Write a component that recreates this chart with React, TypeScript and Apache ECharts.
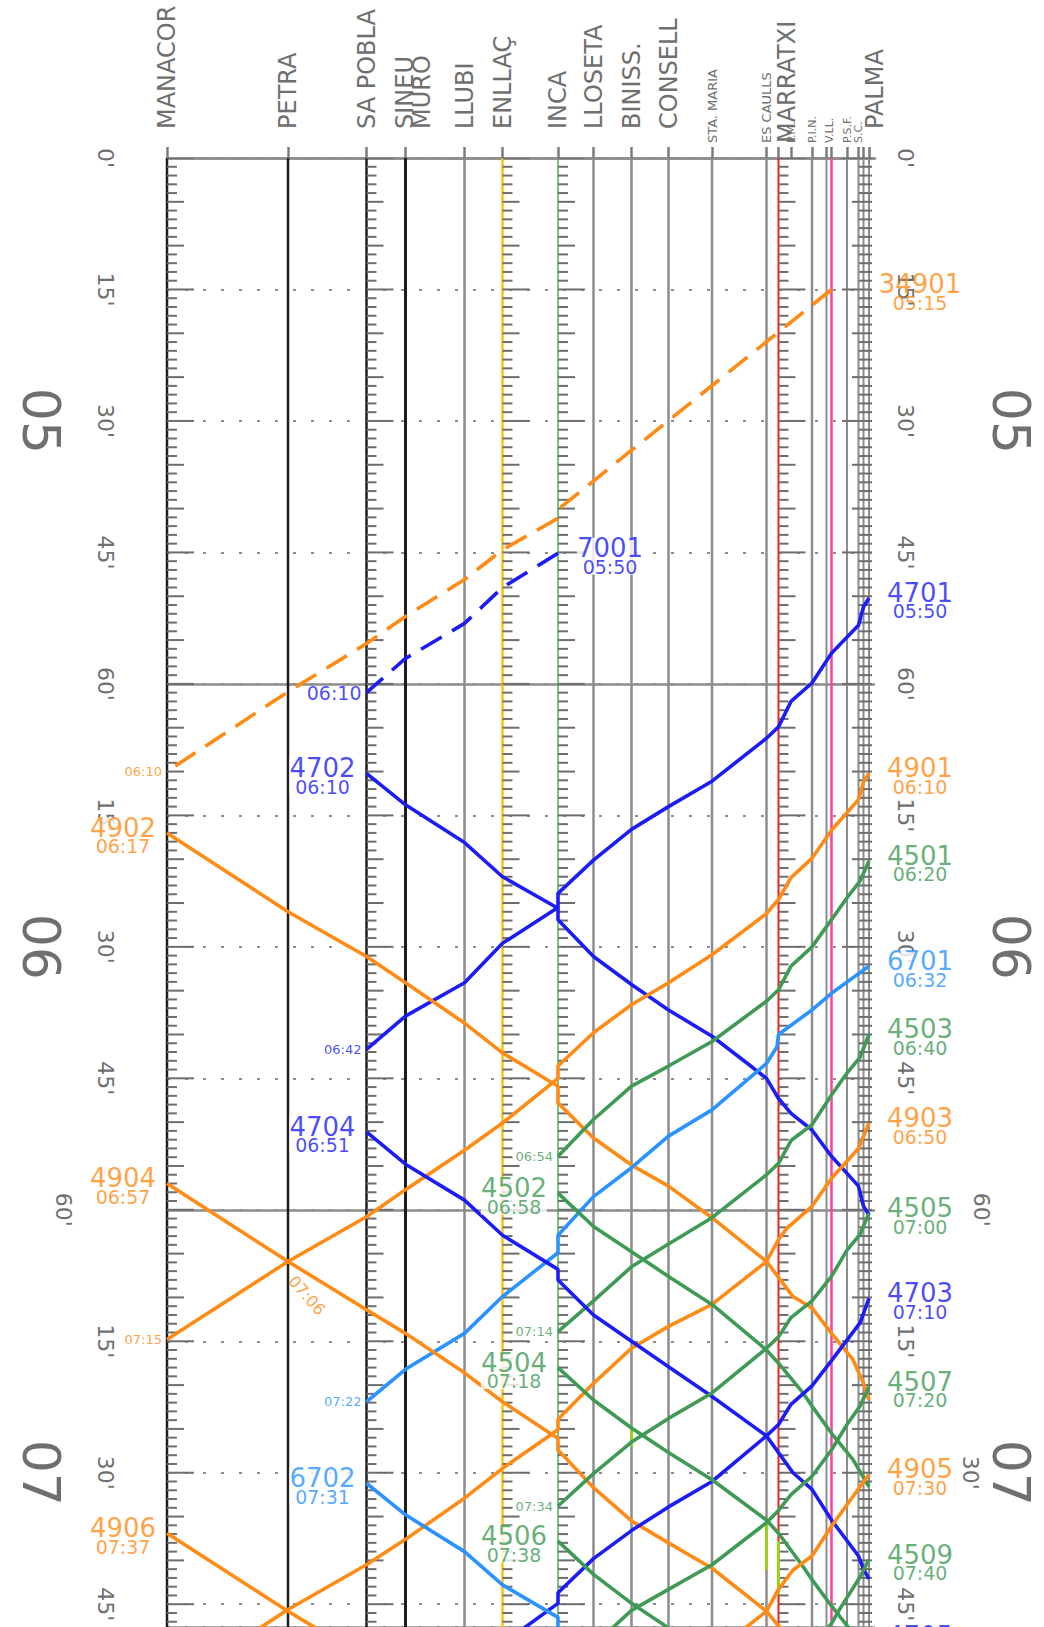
import React, { useEffect, useRef } from "react";
import * as echarts from "echarts";

// ---------- stations (km from Palma) ----------
const stationCodes = ["PAL", "SJ", "SC", "PSF", "VLL", "PI", "PIN", "PM", "MAR", "ESC", "STM", "CON", "BIN", "LLO", "INC", "ENL", "LLU", "MUR", "SPO", "PET", "MAN"];
const stationKm = [0, 0.55, 1.05, 2.2, 3.75, 4.25, 5.7, 7.8, 9.05, 10.25, 15.7, 20.05, 23.75, 27.55, 31.1, 36.65, 40.45, 46.35, 50.25, 58.1, 70.2];

// header labels
const bigLabelNames = ["PALMA", "LLOSETA", "BINISS.", "CONSELL", "INCA", "ENLLAÇ", "LLUBI", "MURO", "SINEU", "SA POBLA", "PETRA", "MANACOR"];
const bigLabelKm = [-0.6, 27.55, 23.75, 20.05, 31.1, 36.65, 40.45, 44.7, 46.4, 50.25, 58.1, 70.2];
const lowLabelNames = ["MARRATXI", "ES CAULLS", "STA. MARIA", "P.M.", "P.I.N.", "V.LL.", "P.S.F.", "S.C.", "S.J."];
const lowLabelKm = [8.23, 10.25, 15.7, 7.8, 5.7, 4.0, 2.2, 1.05, 0.55];

// time axis (minutes after 05:00)
const leftMinuteTicks = [0, 15, 30, 45, 60, 75, 90, 105, 135, 150, 165];
const rightMinuteTicks = [0, 15, 30, 45, 60, 75, 90, 105, 135, 165];
const hourTicks = [30, 90, 150];
const hourNames = ["05", "06", "07"];

// ---------- train paths: [station or km, minutes after 05:00] ----------
type Stop = [string | number, number];
const T34901: Stop[] = [["VLL", 15], ["INC", 40.1], ["INC", 41.1], ["ENL", 44.7], ["LLU", 48.1], ["MUR", 52.3], ["SPO", 55.4], ["PET", 60.9], ["MAN", 70.0]];
const T7001: Stop[] = [["INC", 45.1], ["ENL", 49.0], ["LLU", 53.1], ["MUR", 57.1], ["SPO", 61.0]];
const T4701: Stop[] = [["PAL", 50.2], ["SJ", 51.2], ["SC", 53.3], ["VLL", 56.5], ["PIN", 59.9], ["PM", 62.0], ["MAR", 64.9], ["ESC", 66.2], ["STM", 71.1], ["CON", 74.0], ["BIN", 76.6], ["LLO", 80.1], ["INC", 83.9], ["INC", 85.5], ["ENL", 89.6], ["LLU", 94.1], ["MUR", 97.9], ["SPO", 101.7]];
const T4702: Stop[] = [["SPO", 70.2], ["MUR", 73.8], ["LLU", 78.1], ["ENL", 82.0], ["INC", 85.6], ["INC", 86.9], ["LLO", 91.1], ["BIN", 94.3], ["CON", 97.2], ["STM", 100.2], [11.6, 103.8], ["ESC", 105.0], ["MAR", 107.3], ["PM", 109.0], ["PIN", 110.9], ["VLL", 113.9], ["SC", 117.3], ["SJ", 119.6], ["PAL", 120.6]];
const T4901: Stop[] = [["PAL", 70.2], ["SJ", 71.2], ["SC", 73.2], ["VLL", 76.7], ["PIN", 79.9], ["PM", 82.1], ["MAR", 84.6], ["ESC", 86.2], ["STM", 90.9], ["CON", 94.1], ["BIN", 96.6], ["LLO", 99.8], ["INC", 103.6], ["INC", 105.0], ["ENL", 110.1], ["LLU", 113.2], ["MUR", 117.7], ["SPO", 120.8], ["PET", 125.9], ["MAN", 134.8]];
const T4902: Stop[] = [["MAN", 77.0], ["PET", 86.0], ["SPO", 91.1], ["MUR", 94.1], ["LLU", 98.7], ["ENL", 102.1], ["INC", 105.9], ["INC", 107.8], ["LLO", 111.8], ["BIN", 114.9], ["CON", 117.3], ["STM", 120.9], ["ESC", 125.9], [7.6, 129.9], ["PIN", 131.2], ["VLL", 134.1], [1.6, 137.1], ["SJ", 139.8], ["PAL", 141.7]];
const T4501: Stop[] = [["PAL", 80.2], [0.9, 82.5], ["PSF", 84.4], ["VLL", 86.9], ["PIN", 90.0], ["PM", 92.2], ["MAR", 94.9], ["ESC", 96.2], ["STM", 100.8], ["CON", 103.6], ["BIN", 105.9], ["LLO", 109.7], ["INC", 113.9]];
const T6701: Stop[] = [["PAL", 92.2], ["VLL", 95.3], ["PIN", 97.2], ["MAR", 100.0], [9.2, 101.4], ["ESC", 103.3], ["STM", 108.6], ["CON", 111.6], ["BIN", 115.2], ["LLO", 118.5], ["INC", 122.9], ["INC", 124.9], ["ENL", 129.9], ["LLU", 134.1], ["MUR", 138.2], ["SPO", 141.9]];
const T4503: Stop[] = [["PAL", 100.0], [0.9, 102.6], ["PSF", 104.4], ["VLL", 106.9], ["PIN", 110.3], ["PM", 112.1], ["MAR", 114.7], ["ESC", 116.0], ["STM", 120.9], ["CON", 123.9], ["BIN", 126.5], ["LLO", 130.4], ["INC", 133.9]];
const T4903: Stop[] = [["PAL", 110.1], ["SC", 113.0], ["VLL", 116.4], ["PIN", 119.6], [8.2, 122.1], ["MAR", 123.4], ["ESC", 125.9], ["STM", 130.8], ["CON", 133.3], ["BIN", 135.8], ["LLO", 139.8], ["INC", 143.9], ["INC", 145.1], ["ENL", 149.5], ["LLU", 152.9], ["MUR", 157.6], ["SPO", 160.5], ["PET", 165.6], ["MAN", 174.7]];
const T4704: Stop[] = [["SPO", 111.1], ["MUR", 114.8], ["LLU", 118.9], ["ENL", 122.9], ["INC", 126.8], ["INC", 128.0], ["LLO", 132.0], ["BIN", 135.0], ["CON", 137.9], ["STM", 141.3], ["ESC", 145.8], ["MAR", 147.7], [7.6, 150.0], ["PIN", 151.9], ["VLL", 155.4], ["SC", 159.5], ["SJ", 161.0], ["PAL", 162.1]];
const T4904: Stop[] = [["MAN", 117.0], ["PET", 125.9], ["SPO", 131.4], ["MUR", 134.1], ["LLU", 138.6], ["ENL", 141.9], ["INC", 146.1], ["INC", 147.4], ["LLO", 151.7], ["BIN", 155.5], ["CON", 158.0], ["STM", 160.9], ["ESC", 165.8], ["MAR", 167.5], ["PIN", 171.0], ["VLL", 173.6], ["PAL", 178.0]];
const T4502: Stop[] = [["INC", 118.1], ["LLO", 121.9], ["BIN", 124.8], ["CON", 127.6], ["STM", 130.8], ["ESC", 136.0], ["MAR", 137.5], [6.6, 140.9], ["PIN", 142.4], ["VLL", 145.5], [1.6, 148.5], ["PAL", 151.6]];
const T4505: Stop[] = [["PAL", 120.4], [0.9, 122.8], ["PSF", 124.6], ["VLL", 127.6], ["PIN", 130.4], ["PM", 132.3], ["MAR", 134.5], ["ESC", 135.8], ["STM", 140.9], ["CON", 143.8], ["BIN", 146.5], ["LLO", 150.1], ["INC", 153.8]];
const T4703: Stop[] = [["PAL", 130.1], [0.9, 132.9], ["VLL", 137.2], ["PIN", 140.1], ["PM", 142.2], ["MAR", 144.5], ["ESC", 145.8], ["STM", 151.0], ["CON", 153.9], ["BIN", 156.6], ["LLO", 159.8], ["INC", 163.7], ["INC", 164.9], ["ENL", 169.5], ["LLU", 174.0]];
const T4504: Stop[] = [["INC", 138.0], ["LLO", 141.7], ["BIN", 144.9], ["CON", 147.7], ["STM", 150.8], ["ESC", 155.4], ["MAR", 156.9], [6.6, 160.7], ["PIN", 162.2], ["VLL", 165.2], [1.6, 168.3], ["PAL", 171.4]];
const T4507: Stop[] = [["PAL", 140.2], [0.9, 142.4], ["PSF", 144.5], ["VLL", 147.4], ["PIN", 150.4], ["PM", 152.5], ["MAR", 154.3], ["ESC", 155.7], ["STM", 160.5], ["CON", 163.3], ["BIN", 165.7], ["LLO", 169.7], ["INC", 173.9]];
const T4905: Stop[] = [["PAL", 150.2], [0.9, 151.6], ["VLL", 156.1], ["PIN", 159.5], [7.6, 161.1], ["MAR", 163.3], ["ESC", 165.8], ["STM", 170.7]];
const T6702: Stop[] = [["SPO", 151.2], ["MUR", 154.8], ["LLU", 159.0], ["ENL", 162.8], ["INC", 166.5], ["INC", 167.8], ["LLO", 172.0]];
const T4906: Stop[] = [["MAN", 156.9], ["PET", 165.8], ["SPO", 171.2]];
const T4506: Stop[] = [["INC", 157.8], ["LLO", 161.6], ["BIN", 164.9], ["CON", 167.7], ["STM", 170.9]];
const T4509: Stop[] = [["PAL", 159.9], [0.9, 161.9], [2.9, 165.5], ["VLL", 167.2], ["PIN", 170.0]];
const T4705: Stop[] = [["PAL", 169.2], ["VLL", 174.0]];

// platform occupation marks (lime)
const occupations: Stop[][] = [[["BIN", 144.9], ["BIN", 147.0]], [["ESC", 155.7], ["ESC", 161.1]], [["MAR", 157.8], ["MAR", 163.9]]];

// crossing time note at Petra
const crossingNote: Stop = ["PET", 125.9];
const crossingText = "07:06";

// ---------- styles ----------
const FONT = "DejaVu Sans";
const AXIS_TEXT = "#6f6f6f";
const COLORS: Record<string, string> = { orange: "#ff8a14", blue: "#1c1cf5", lblue: "#2a93ff", green: "#3f9a55" };
const LIME = "#9ad31e";
const GRAY = "#8c8c8c";
const BLACK = "#1e1e1e";
const lineColors = [GRAY, GRAY, GRAY, GRAY, "#ff3fa0", GRAY, GRAY, GRAY, "#ff1a1a", GRAY, GRAY, GRAY, GRAY, GRAY, "#4caf50", "#ffc20e", GRAY, BLACK, BLACK, BLACK, BLACK];
const lineWidths = [2, 2, 2, 2, 2.5, 2, 2.5, 0, 2, 2.5, 2.5, 2.5, 2.5, 2.5, 1.5, 2.5, 2.5, 3, 2.5, 2.5, 2.5];
const rulerStations = ["MAN", "SPO", "ENL", "INC", "MAR", "PAL"];
const rulerDirs = [1, 1, 1, 1, 1, -1];

type Train = { no: string; stops: Stop[]; kind: string; dashed?: boolean; dep: string; arr?: string; side: "P" | "L" | "R"; bg?: boolean; bigArr?: boolean };
const trains: Train[] = [
  { no: "34901", stops: T34901, kind: "orange", dashed: true, dep: "05:15", arr: "06:10", side: "P", bg: false },
  { no: "7001", stops: T7001, kind: "blue", dashed: true, dep: "05:50", arr: "06:10", side: "R", bigArr: true },
  { no: "4701", stops: T4701, kind: "blue", dep: "05:50", arr: "06:42", side: "P" },
  { no: "4702", stops: T4702, kind: "blue", dep: "06:10", side: "L" },
  { no: "4901", stops: T4901, kind: "orange", dep: "06:10", arr: "07:15", side: "P" },
  { no: "4902", stops: T4902, kind: "orange", dep: "06:17", side: "L" },
  { no: "4501", stops: T4501, kind: "green", dep: "06:20", arr: "06:54", side: "P" },
  { no: "6701", stops: T6701, kind: "lblue", dep: "06:32", arr: "07:22", side: "P" },
  { no: "4503", stops: T4503, kind: "green", dep: "06:40", arr: "07:14", side: "P" },
  { no: "4903", stops: T4903, kind: "orange", dep: "06:50", side: "P" },
  { no: "4704", stops: T4704, kind: "blue", dep: "06:51", side: "L" },
  { no: "4904", stops: T4904, kind: "orange", dep: "06:57", side: "L" },
  { no: "4502", stops: T4502, kind: "green", dep: "06:58", side: "L" },
  { no: "4505", stops: T4505, kind: "green", dep: "07:00", arr: "07:34", side: "P" },
  { no: "4703", stops: T4703, kind: "blue", dep: "07:10", side: "P" },
  { no: "4504", stops: T4504, kind: "green", dep: "07:18", side: "L" },
  { no: "4507", stops: T4507, kind: "green", dep: "07:20", side: "P" },
  { no: "4905", stops: T4905, kind: "orange", dep: "07:30", side: "P" },
  { no: "6702", stops: T6702, kind: "lblue", dep: "07:31", side: "L" },
  { no: "4906", stops: T4906, kind: "orange", dep: "07:37", side: "L" },
  { no: "4506", stops: T4506, kind: "green", dep: "07:38", side: "L" },
  { no: "4509", stops: T4509, kind: "green", dep: "07:40", side: "P" },
  { no: "4705", stops: T4705, kind: "blue", dep: "07:50", side: "P" },
];

const kmOf = (s: string | number) => (typeof s === "number" ? s : stationKm[stationCodes.indexOf(s)]);
const pt = (s: Stop) => [kmOf(s[0]), s[1]];
const minuteLabel = (v: number) => (v === 0 ? "0'" : v % 60 === 0 ? "60'" : `${v % 60}'`);
const pick = (keys: number[], names: string[]) => (v: number) => {
  const i = keys.findIndex((k) => Math.abs(k - v) < 1e-6);
  return i >= 0 ? names[i] : "";
};

function buildOption(): any {
  const Y_MAX = 167.6;
  const yBase = {
    type: "value", min: 0, max: Y_MAX, inverse: true,
    axisLine: { show: false, onZero: false }, axisTick: { show: false }, splitLine: { show: false },
  };
  const minuteLabelStyle = { rotate: -90, fontSize: 22, color: AXIS_TEXT, fontFamily: FONT, formatter: minuteLabel };
  const hourLabelStyle = { rotate: -90, fontSize: 52, color: AXIS_TEXT, fontFamily: FONT, formatter: (v: number) => hourNames[Math.floor(v / 60)] };

  const yAxis = [
    { ...yBase, position: "left", offset: 0, interval: 15, splitLine: { show: true, lineStyle: { color: GRAY, width: 2, type: [3, 15] } }, axisLabel: { ...minuteLabelStyle, customValues: leftMinuteTicks, margin: 51 } },
    { ...yBase, position: "left", offset: 0, interval: 60, splitLine: { show: true, lineStyle: { color: GRAY, width: 2.5 } }, axisLabel: { show: false } },
    { ...yBase, position: "left", offset: 0, axisLabel: { ...minuteLabelStyle, customValues: [120], margin: 93 } },
    { ...yBase, position: "left", offset: 0, axisLabel: { ...hourLabelStyle, customValues: hourTicks, margin: 100 } },
    { ...yBase, position: "right", offset: 0, axisLabel: { ...minuteLabelStyle, customValues: rightMinuteTicks, margin: 19 } },
    { ...yBase, position: "right", offset: 0, axisLabel: { ...minuteLabelStyle, customValues: [120], margin: 95 } },
    { ...yBase, position: "right", offset: 0, axisLabel: { ...minuteLabelStyle, customValues: [150], margin: 84 } },
    { ...yBase, position: "right", offset: 0, axisLabel: { ...hourLabelStyle, customValues: hourTicks, margin: 110 } },
  ];

  const xBase = { type: "value", min: -0.6, max: 70.2, inverse: true, position: "top", splitLine: { show: false } };
  const xAxis = [
    {
      ...xBase,
      axisLine: { show: true, onZero: false, lineStyle: { color: GRAY, width: 2.5 } },
      axisTick: { show: true, customValues: stationKm, length: 11, lineStyle: { color: "#7a7a7a", width: 2.5 } },
      axisLabel: { customValues: bigLabelKm, rotate: -90, margin: 29, fontSize: 24, color: AXIS_TEXT, fontFamily: FONT, formatter: pick(bigLabelKm, bigLabelNames) },
    },
    {
      ...xBase,
      axisLine: { show: false, onZero: false }, axisTick: { show: false },
      axisLabel: {
        customValues: lowLabelKm, rotate: -90, margin: 15, color: AXIS_TEXT, fontFamily: FONT,
        formatter: (v: number) => {
          const name = pick(lowLabelKm, lowLabelNames)(v);
          const sty = name === "MARRATXI" ? "b" : name === "ES CAULLS" || name === "STA. MARIA" ? "m" : "s";
          return `{${sty}|${name}}`;
        },
        rich: {
          b: { fontSize: 24, color: AXIS_TEXT, fontFamily: FONT },
          m: { fontSize: 13, color: AXIS_TEXT, fontFamily: FONT },
          s: { fontSize: 11, color: AXIS_TEXT, fontFamily: FONT },
        },
      },
    },
  ];

  const series: any[] = [];

  // station lines
  series.push({
    type: "custom", coordinateSystem: "cartesian2d", silent: true, z: 1, clip: false,
    data: stationKm.map((km, i) => [km, 0, i]),
    renderItem: (params: any, api: any) => {
      const i = api.value(2);
      const w = lineWidths[i];
      if (!w) return null;
      const p = api.coord([api.value(0), 0]);
      const cs = params.coordSys;
      return { type: "line", shape: { x1: p[0], y1: cs.y, x2: p[0], y2: cs.y + cs.height }, style: { stroke: lineColors[i], lineWidth: w } };
    },
  });

  // minute rulers
  const rulerData: number[][] = [];
  rulerStations.forEach((code, r) => {
    for (let m = 0; m <= 167; m++) rulerData.push([kmOf(code), m, rulerDirs[r]]);
  });
  series.push({
    type: "custom", coordinateSystem: "cartesian2d", silent: true, z: 2, clip: true,
    data: rulerData,
    renderItem: (params: any, api: any) => {
      const m = api.value(1);
      const dir = api.value(2);
      const p = api.coord([api.value(0), m]);
      const len = m % 15 === 0 ? 27 : m % 5 === 0 ? 17 : 10;
      const x0 = dir > 0 ? p[0] : p[0] + 3;
      return { type: "line", shape: { x1: x0, y1: p[1], x2: x0 + dir * (len + (dir < 0 ? 3 : 0)), y2: p[1] }, style: { stroke: "#6e6e6e", lineWidth: 2 } };
    },
  });

  // occupation marks
  occupations.forEach((seg) => {
    series.push({ type: "line", data: seg.map(pt), showSymbol: false, symbol: "none", silent: true, z: 3, lineStyle: { color: LIME, width: 3 } });
  });

  // trains
  trains.forEach((t) => {
    series.push({
      type: "line", name: t.no, data: t.stops.map(pt), showSymbol: false, symbol: "none", silent: true, z: 4,
      lineStyle: { color: COLORS[t.kind], width: 3.6, type: t.dashed ? [24, 12] : "solid", cap: "butt" },
    });
  });

  // labels
  const labelData: any[] = [];
  trains.forEach((t) => {
    const color = COLORS[t.kind];
    const s0 = t.stops[0];
    const anchor = t.side === "P" ? [0, s0[1]] : pt(s0);
    const dx = t.side === "P" ? 51 : t.side === "L" ? -44 : 52;
    labelData.push({
      value: anchor,
      label: {
        show: true, position: "inside", offset: [dx, 3], align: "center", verticalAlign: "middle",
        formatter: `{n|${t.no}}\n{t|${t.dep}}`,
        backgroundColor: t.bg === false ? "transparent" : "#ffffff",
        rich: {
          n: { fontSize: 26, lineHeight: 21, color, fontFamily: FONT, align: "center" },
          t: { fontSize: 19, lineHeight: 16, color, fontFamily: FONT, align: "center" },
        },
      },
    });
    if (t.arr) {
      const last = t.stops[t.stops.length - 1];
      labelData.push({
        value: pt(last),
        label: {
          show: true, position: "inside", offset: [-5, 0], align: "right", verticalAlign: "middle",
          formatter: t.arr, fontSize: t.bigArr ? 19 : 13, color, fontFamily: FONT,
        },
      });
    }
  });
  labelData.push({
    value: pt(crossingNote),
    label: {
      show: true, position: "inside", offset: [38, 8], align: "center", verticalAlign: "middle", rotate: -49,
      formatter: crossingText, fontSize: 16, color: COLORS.orange, fontFamily: FONT,
    },
  });
  series.push({
    type: "scatter", symbol: "circle", symbolSize: 1, itemStyle: { color: "rgba(0,0,0,0)" }, silent: true, clip: false, z: 6,
    data: labelData,
  });

  return {
    animation: false,
    backgroundColor: "#ffffff",
    grid: { left: 167, right: 169, top: 158, bottom: 0, containLabel: false, outerBoundsMode: "none" },
    xAxis,
    yAxis,
    series,
  };
}

export default function App() {
  const ref = useRef<HTMLDivElement>(null);
  useEffect(() => {
    const chart = echarts.init(ref.current as HTMLDivElement, null, { renderer: "svg" });
    chart.setOption(buildOption());
    return () => chart.dispose();
  }, []);
  return <div ref={ref} style={{ position: "absolute", left: 0, top: 0, width: 1044, height: 1627, background: "#fff" }} />;
}
